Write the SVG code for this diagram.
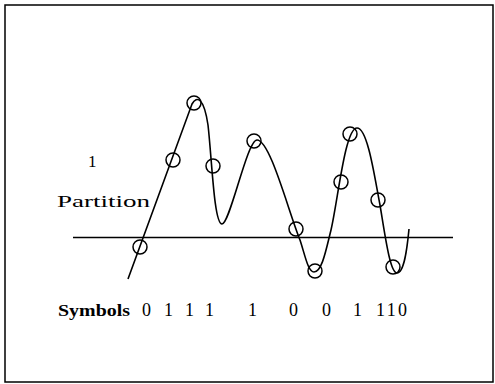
<svg xmlns="http://www.w3.org/2000/svg" width="495" height="384" viewBox="0 0 495 384">
<style>
.ln{fill:none;stroke:#000;stroke-width:1.6}
.pt{fill:none;stroke:#000;stroke-width:1.5}
.t{font-family:"Liberation Serif","DejaVu Serif",serif;fill:#000}
</style>
<rect x="0" y="0" width="495" height="384" fill="#fff"/>
<rect x="5" y="5" width="488" height="377" fill="none" stroke="#000" stroke-width="1.5"/>
<g id="connectors">
<line class="ln" x1="73" y1="237.5" x2="453" y2="237.5"/>
<path class="ln" d="M128,279 L192,104 C197,95 204,98 208,125 C212,160 214,224 222,224 C230,224 247,140 257,140 C270,140 288,210 300,240 C305,255 308,272 314,272 C322,272 326,250 331,230 C338,200 345,128 357,128 C368,128 375,180 380,205 C385,235 390,273 397,273 C404,273 407,250 409,229"/>
</g>
<g id="samples">
<circle class="pt" cx="140" cy="247" r="7"/>
<circle class="pt" cx="173" cy="160" r="7"/>
<circle class="pt" cx="194" cy="103" r="7"/>
<circle class="pt" cx="213" cy="166" r="7"/>
<circle class="pt" cx="254" cy="141" r="7"/>
<circle class="pt" cx="296" cy="229" r="7"/>
<circle class="pt" cx="315" cy="271" r="7"/>
<circle class="pt" cx="341" cy="182" r="7"/>
<circle class="pt" cx="350" cy="134" r="7"/>
<circle class="pt" cx="378" cy="200" r="7"/>
<circle class="pt" cx="393" cy="267" r="7"/>
</g>
<g id="labels">
<text class="t" x="88" y="167" font-size="17">1</text>
<text class="t" x="57" y="207" font-size="16" textLength="93" lengthAdjust="spacingAndGlyphs">Partition</text>
<text class="t" x="58" y="316" font-size="17" font-weight="bold" textLength="72" lengthAdjust="spacingAndGlyphs">Symbols</text>
<text class="t" y="316" font-size="18"><tspan x="142">0</tspan><tspan x="164">1</tspan><tspan x="185">1</tspan><tspan x="205">1</tspan><tspan x="248">1</tspan><tspan x="289">0</tspan><tspan x="322">0</tspan><tspan x="353">1</tspan><tspan x="376" textLength="31" lengthAdjust="spacing">110</tspan></text>
</g>
</svg>
